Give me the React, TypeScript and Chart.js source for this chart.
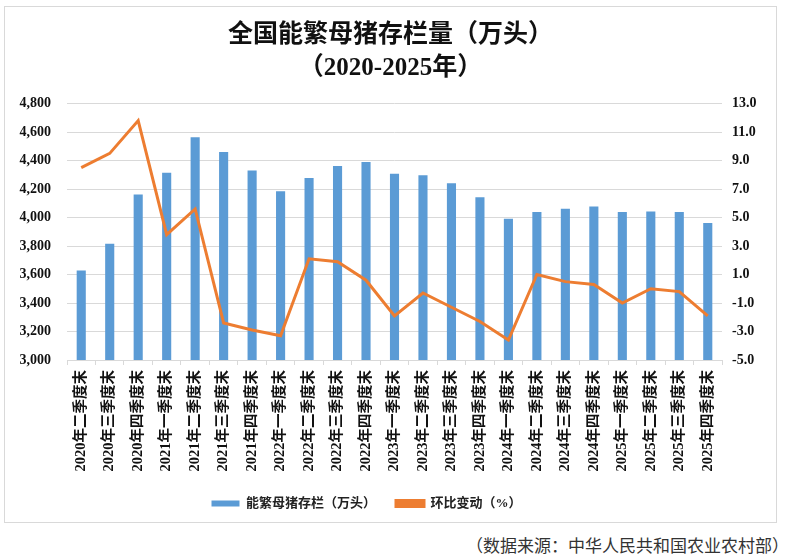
import React, { useEffect, useRef } from "react";
import { Chart, registerables } from "chart.js";

Chart.register(...registerables);

const categories: string[] = [
  "2020年二季度末", "2020年三季度末", "2020年四季度末",
  "2021年一季度末", "2021年二季度末", "2021年三季度末", "2021年四季度末",
  "2022年一季度末", "2022年二季度末", "2022年三季度末", "2022年四季度末",
  "2023年一季度末", "2023年二季度末", "2023年三季度末", "2023年四季度末",
  "2024年一季度末", "2024年二季度末", "2024年三季度末", "2024年四季度末",
  "2025年一季度末", "2025年二季度末", "2025年三季度末", "2025年四季度末",
];

const inventory: number[] = [
  3628, 3816, 4161, 4314, 4564, 4459, 4329, 4185, 4277, 4362, 4390, 4307,
  4296, 4241, 4142, 3992, 4039, 4062, 4078, 4039, 4042, 4038, 3961,
];

const qoqChange: number[] = [
  8.5, 9.5, 11.8, 3.8, 5.6, -2.4, -2.9, -3.3, 2.1, 1.9, 0.6, -1.9,
  -0.3, -1.3, -2.3, -3.6, 1.0, 0.5, 0.3, -1.0, 0.0, -0.2, -1.9,
];

const titleLines: string[] = ["全国能繁母猪存栏量（万头）", "（2020-2025年）"];
const seriesNames: string[] = ["能繁母猪存栏（万头）", "环比变动（%）"];
const sourceNote = "（数据来源：中华人民共和国农业农村部）";

const FONT = "'Liberation Serif', 'Noto Sans CJK SC', serif";

const legendShift = {
  id: "legendShift",
  afterLayout(chart: any) {
    const lg = chart.legend;
    if (lg) {
      lg.left -= 24;
      lg.right -= 24;
    }
  },
};

export default function App() {
  const canvasRef = useRef<HTMLCanvasElement | null>(null);

  useEffect(() => {
    if (!canvasRef.current) return;
    const chart = new Chart(canvasRef.current, {
      type: "bar",
      data: {
        labels: categories,
        datasets: [
          {
            type: "bar",
            label: seriesNames[0],
            data: inventory,
            backgroundColor: "#5B9BD5",
            borderWidth: 0,
            barPercentage: 0.32,
            categoryPercentage: 1,
            yAxisID: "y",
            order: 1,
          },
          {
            type: "line",
            label: seriesNames[1],
            data: qoqChange,
            borderColor: "#ED7D31",
            backgroundColor: "#ED7D31",
            borderWidth: 3,
            pointRadius: 0,
            tension: 0,
            yAxisID: "y1",
            order: 0,
          } as any,
        ],
      },
      plugins: [legendShift],
      options: {
        animation: false,
        responsive: false,
        maintainAspectRatio: false,
        layout: { padding: { left: 0, right: 0, top: 0, bottom: 2 } },
        plugins: {
          title: {
            display: true,
            text: titleLines,
            color: "#111",
            font: { family: FONT, size: 25, weight: "bold", lineHeight: 1.33 },
            padding: { top: 12, bottom: 18 },
          },
          legend: {
            position: "bottom",
            labels: {
              boxWidth: 28,
              boxHeight: 6,
              padding: 20,
              color: "#222",
              font: { family: FONT, size: 13, weight: "bold" },
              sort: (a: any, b: any) => a.datasetIndex - b.datasetIndex,
            },
          },
          tooltip: { enabled: false },
        },
        scales: {
          x: {
            offset: true,
            grid: {
              display: true,
              drawOnChartArea: false,
              drawTicks: true,
              tickLength: 5,
              color: "#d9d9d9",
              offset: true,
            },
            border: { display: true, color: "#d9d9d9" },
            ticks: {
              autoSkip: false,
              maxRotation: 90,
              minRotation: 90,
              padding: 5,
              color: "#111",
              font: { family: FONT, size: 14.5, weight: "bold" },
            },
            afterFit: (scale: any) => {
              scale.height = 117;
            },
          },
          y: {
            position: "left",
            min: 3000,
            max: 4800,
            grid: { color: "#d9d9d9", drawTicks: false },
            border: { display: false },
            ticks: {
              stepSize: 200,
              padding: 16,
              color: "#111",
              font: { family: FONT, size: 14, weight: "bold" },
              callback: (v: any) => Number(v).toLocaleString("en-US"),
            },
            afterFit: (scale: any) => {
              scale.width = 62;
            },
          },
          y1: {
            position: "right",
            min: -5,
            max: 13,
            grid: { display: false, drawOnChartArea: false, drawTicks: false },
            border: { display: false },
            ticks: {
              stepSize: 2,
              padding: 10,
              color: "#111",
              font: { family: FONT, size: 14, weight: "bold" },
              callback: (v: any) => Number(v).toFixed(1),
            },
            afterFit: (scale: any) => {
              scale.width = 54;
            },
          },
        },
      },
    });
    return () => chart.destroy();
  }, []);

  return (
    <div
      style={{
        position: "fixed",
        left: 0,
        top: 0,
        width: 787,
        height: 558,
        background: "#fff",
        overflow: "hidden",
      }}
    >
      <div
        style={{
          position: "absolute",
          left: 4,
          top: 6,
          width: 771,
          height: 515,
          border: "1px solid #d9d9d9",
          background: "#fff",
        }}
      >
        <canvas ref={canvasRef} width={771} height={515} style={{ display: "block" }} />
      </div>
      <div
        style={{
          position: "absolute",
          right: -2,
          top: 533,
          fontFamily: "'Noto Sans CJK SC', sans-serif",
          fontSize: 17,
          color: "#333",
          whiteSpace: "nowrap",
          lineHeight: "24px",
        }}
      >
        {sourceNote}
      </div>
    </div>
  );
}
